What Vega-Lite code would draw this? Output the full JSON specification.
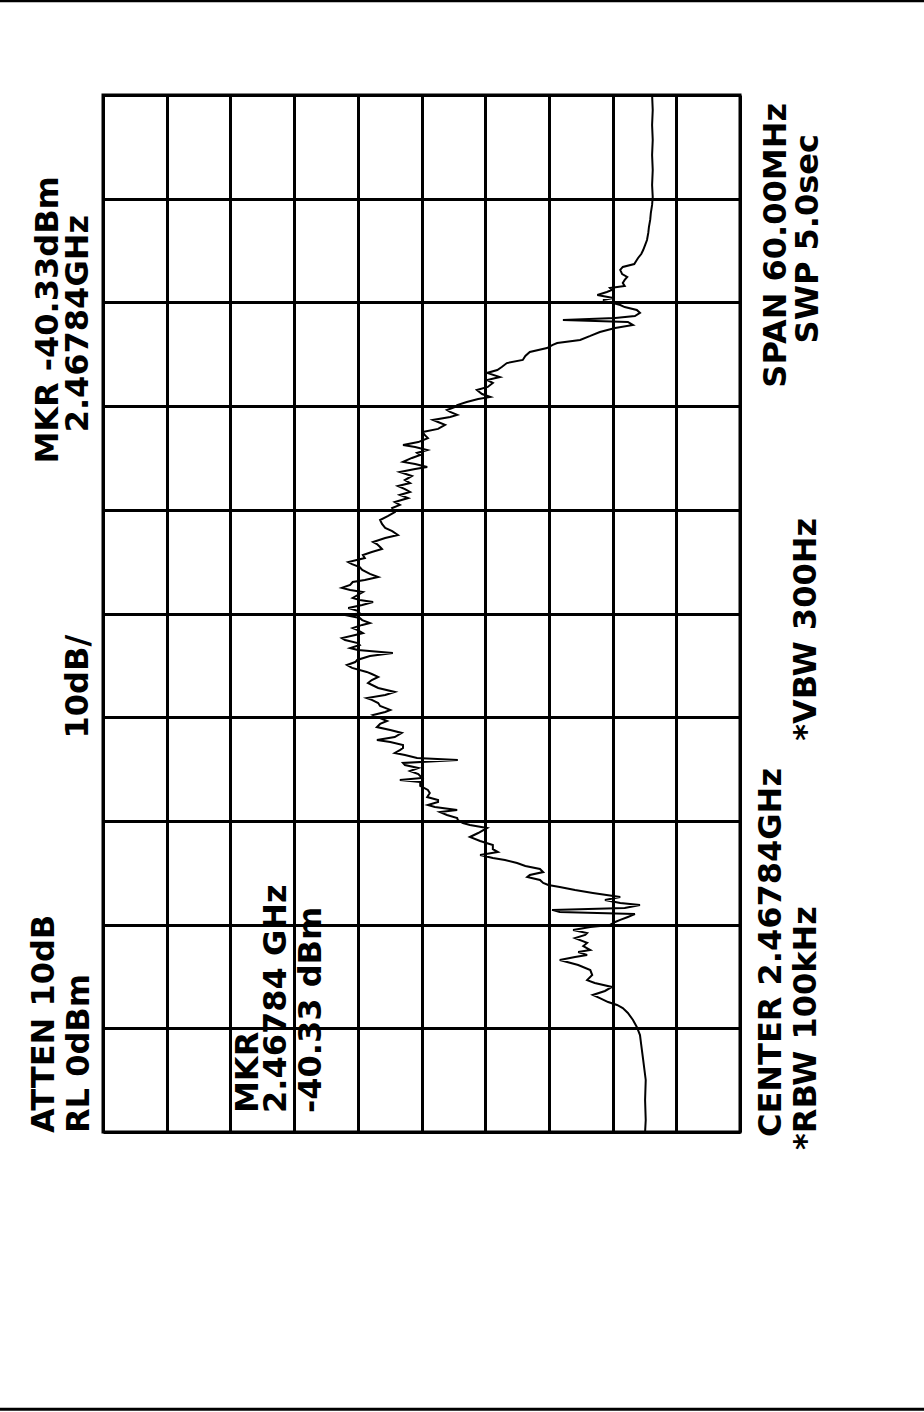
{
  "$schema": "https://vega.github.io/schema/vega-lite/v6.json",
  "autosize": "none",
  "width": 637,
  "height": 1037,
  "padding": {"left": 103, "top": 95, "right": 184, "bottom": 280},
  "background": "white",
  "config": {"view": {"stroke": "black", "strokeWidth": 3}},
  "datasets": {
    "trace": [
      {"freq_mhz":2437.84,"level_dbm":-85.1},{"freq_mhz":2438.53,"level_dbm":-85.2},{"freq_mhz":2439.69,"level_dbm":-85.1},{"freq_mhz":2440.85,"level_dbm":-85.2},
      {"freq_mhz":2442.01,"level_dbm":-84.8},{"freq_mhz":2442.87,"level_dbm":-84.5},{"freq_mhz":2443.45,"level_dbm":-84.3},{"freq_mhz":2443.92,"level_dbm":-83.8},
      {"freq_mhz":2444.32,"level_dbm":-83.2},{"freq_mhz":2444.73,"level_dbm":-82.4},{"freq_mhz":2445.01,"level_dbm":-81.6},{"freq_mhz":2445.19,"level_dbm":-80.7},
      {"freq_mhz":2445.36,"level_dbm":-79.3},{"freq_mhz":2445.59,"level_dbm":-78.0},{"freq_mhz":2445.77,"level_dbm":-76.9},{"freq_mhz":2446.00,"level_dbm":-78.8},
      {"freq_mhz":2446.23,"level_dbm":-79.9},{"freq_mhz":2446.46,"level_dbm":-77.2},{"freq_mhz":2446.63,"level_dbm":-76.0},{"freq_mhz":2446.92,"level_dbm":-76.8},
      {"freq_mhz":2447.21,"level_dbm":-76.5},{"freq_mhz":2447.50,"level_dbm":-74.6},{"freq_mhz":2447.79,"level_dbm":-71.7},{"freq_mhz":2447.97,"level_dbm":-74.1},
      {"freq_mhz":2448.08,"level_dbm":-76.0},{"freq_mhz":2448.25,"level_dbm":-74.6},{"freq_mhz":2448.37,"level_dbm":-76.5},{"freq_mhz":2448.60,"level_dbm":-75.4},
      {"freq_mhz":2448.78,"level_dbm":-76.0},{"freq_mhz":2449.06,"level_dbm":-74.1},{"freq_mhz":2449.24,"level_dbm":-75.7},{"freq_mhz":2449.35,"level_dbm":-76.0},
      {"freq_mhz":2449.53,"level_dbm":-73.8},{"freq_mhz":2449.70,"level_dbm":-76.5},{"freq_mhz":2449.82,"level_dbm":-79.6},{"freq_mhz":2449.99,"level_dbm":-80.4},
      {"freq_mhz":2450.11,"level_dbm":-81.2},{"freq_mhz":2450.28,"level_dbm":-82.4},{"freq_mhz":2450.40,"level_dbm":-83.2},{"freq_mhz":2450.45,"level_dbm":-83.5},
      {"freq_mhz":2450.57,"level_dbm":-71.7},{"freq_mhz":2450.69,"level_dbm":-70.5},{"freq_mhz":2450.80,"level_dbm":-81.9},{"freq_mhz":2450.97,"level_dbm":-84.3},
      {"freq_mhz":2451.09,"level_dbm":-81.2},{"freq_mhz":2451.26,"level_dbm":-78.8},{"freq_mhz":2451.44,"level_dbm":-81.2},{"freq_mhz":2451.67,"level_dbm":-76.9},
      {"freq_mhz":2451.84,"level_dbm":-74.1},{"freq_mhz":2452.02,"level_dbm":-71.7},{"freq_mhz":2452.13,"level_dbm":-69.9},{"freq_mhz":2452.25,"level_dbm":-69.1},
      {"freq_mhz":2452.42,"level_dbm":-68.6},{"freq_mhz":2452.59,"level_dbm":-66.6},{"freq_mhz":2452.71,"level_dbm":-67.0},{"freq_mhz":2452.88,"level_dbm":-69.1},
      {"freq_mhz":2453.06,"level_dbm":-68.6},{"freq_mhz":2453.23,"level_dbm":-66.3},{"freq_mhz":2453.40,"level_dbm":-65.0},{"freq_mhz":2453.58,"level_dbm":-63.1},
      {"freq_mhz":2453.69,"level_dbm":-61.2},{"freq_mhz":2453.87,"level_dbm":-59.2},{"freq_mhz":2454.04,"level_dbm":-62.0},{"freq_mhz":2454.21,"level_dbm":-61.2},
      {"freq_mhz":2454.45,"level_dbm":-61.2},{"freq_mhz":2454.68,"level_dbm":-59.2},{"freq_mhz":2454.91,"level_dbm":-57.6},{"freq_mhz":2455.14,"level_dbm":-58.9},
      {"freq_mhz":2455.43,"level_dbm":-60.3},{"freq_mhz":2455.60,"level_dbm":-57.6},{"freq_mhz":2455.72,"level_dbm":-56.5},{"freq_mhz":2455.89,"level_dbm":-55.7},
      {"freq_mhz":2456.01,"level_dbm":-55.6},{"freq_mhz":2456.18,"level_dbm":-54.0},{"freq_mhz":2456.35,"level_dbm":-52.9},{"freq_mhz":2456.47,"level_dbm":-55.6},
      {"freq_mhz":2456.64,"level_dbm":-52.1},{"freq_mhz":2456.76,"level_dbm":-51.0},{"freq_mhz":2456.93,"level_dbm":-52.6},{"freq_mhz":2457.05,"level_dbm":-52.6},
      {"freq_mhz":2457.22,"level_dbm":-50.9},{"freq_mhz":2457.45,"level_dbm":-51.3},{"freq_mhz":2457.63,"level_dbm":-51.0},{"freq_mhz":2457.86,"level_dbm":-49.8},
      {"freq_mhz":2458.09,"level_dbm":-49.8},{"freq_mhz":2458.21,"level_dbm":-46.6},{"freq_mhz":2458.32,"level_dbm":-50.1},{"freq_mhz":2458.55,"level_dbm":-49.5},
      {"freq_mhz":2458.73,"level_dbm":-48.2},{"freq_mhz":2458.90,"level_dbm":-49.5},{"freq_mhz":2459.07,"level_dbm":-47.4},{"freq_mhz":2459.19,"level_dbm":-47.1},
      {"freq_mhz":2459.36,"level_dbm":-55.7},{"freq_mhz":2459.48,"level_dbm":-49.3},{"freq_mhz":2459.65,"level_dbm":-47.4},{"freq_mhz":2459.77,"level_dbm":-45.8},
      {"freq_mhz":2459.94,"level_dbm":-46.6},{"freq_mhz":2460.06,"level_dbm":-47.1},{"freq_mhz":2460.23,"level_dbm":-47.1},{"freq_mhz":2460.41,"level_dbm":-45.1},
      {"freq_mhz":2460.52,"level_dbm":-43.0},{"freq_mhz":2460.69,"level_dbm":-45.8},{"freq_mhz":2460.93,"level_dbm":-46.9},{"freq_mhz":2461.10,"level_dbm":-45.1},
      {"freq_mhz":2461.27,"level_dbm":-43.0},{"freq_mhz":2461.45,"level_dbm":-43.5},{"freq_mhz":2461.62,"level_dbm":-44.6},{"freq_mhz":2461.79,"level_dbm":-43.5},
      {"freq_mhz":2461.97,"level_dbm":-42.4},{"freq_mhz":2462.14,"level_dbm":-44.3},{"freq_mhz":2462.26,"level_dbm":-45.1},{"freq_mhz":2462.49,"level_dbm":-43.5},
      {"freq_mhz":2462.66,"level_dbm":-43.2},{"freq_mhz":2462.84,"level_dbm":-42.2},{"freq_mhz":2462.95,"level_dbm":-41.4},{"freq_mhz":2463.13,"level_dbm":-44.3},
      {"freq_mhz":2463.30,"level_dbm":-45.8},{"freq_mhz":2463.53,"level_dbm":-43.2},{"freq_mhz":2463.82,"level_dbm":-41.6},{"freq_mhz":2463.99,"level_dbm":-42.2},
      {"freq_mhz":2464.17,"level_dbm":-43.2},{"freq_mhz":2464.34,"level_dbm":-42.2},{"freq_mhz":2464.46,"level_dbm":-41.4},{"freq_mhz":2464.69,"level_dbm":-39.1},
      {"freq_mhz":2464.86,"level_dbm":-38.3},{"freq_mhz":2465.03,"level_dbm":-39.6},{"freq_mhz":2465.15,"level_dbm":-39.9},{"freq_mhz":2465.38,"level_dbm":-41.9},
      {"freq_mhz":2465.55,"level_dbm":-45.5},{"freq_mhz":2465.73,"level_dbm":-40.0},{"freq_mhz":2465.84,"level_dbm":-38.8},{"freq_mhz":2466.02,"level_dbm":-40.3},
      {"freq_mhz":2466.13,"level_dbm":-40.0},{"freq_mhz":2466.31,"level_dbm":-38.0},{"freq_mhz":2466.42,"level_dbm":-37.5},{"freq_mhz":2466.60,"level_dbm":-39.6},
      {"freq_mhz":2466.71,"level_dbm":-40.8},{"freq_mhz":2466.89,"level_dbm":-39.9},{"freq_mhz":2467.00,"level_dbm":-39.2},{"freq_mhz":2467.18,"level_dbm":-40.7},
      {"freq_mhz":2467.29,"level_dbm":-41.9},{"freq_mhz":2467.46,"level_dbm":-40.7},{"freq_mhz":2467.58,"level_dbm":-40.3},{"freq_mhz":2467.75,"level_dbm":-38.0},
      {"freq_mhz":2467.84,"level_dbm":-40.33},{"freq_mhz":2467.99,"level_dbm":-40.0},{"freq_mhz":2468.16,"level_dbm":-38.5},{"freq_mhz":2468.33,"level_dbm":-40.7},
      {"freq_mhz":2468.51,"level_dbm":-42.4},{"freq_mhz":2468.62,"level_dbm":-40.3},{"freq_mhz":2468.74,"level_dbm":-39.2},{"freq_mhz":2468.91,"level_dbm":-40.0},
      {"freq_mhz":2469.08,"level_dbm":-40.8},{"freq_mhz":2469.20,"level_dbm":-38.8},{"freq_mhz":2469.32,"level_dbm":-37.5},{"freq_mhz":2469.49,"level_dbm":-38.8},
      {"freq_mhz":2469.66,"level_dbm":-39.2},{"freq_mhz":2469.78,"level_dbm":-41.1},{"freq_mhz":2469.95,"level_dbm":-43.2},{"freq_mhz":2470.13,"level_dbm":-41.9},
      {"freq_mhz":2470.36,"level_dbm":-40.7},{"freq_mhz":2470.53,"level_dbm":-40.3},{"freq_mhz":2470.70,"level_dbm":-39.1},{"freq_mhz":2470.82,"level_dbm":-38.5},
      {"freq_mhz":2471.05,"level_dbm":-41.1},{"freq_mhz":2471.22,"level_dbm":-40.8},{"freq_mhz":2471.40,"level_dbm":-42.2},{"freq_mhz":2471.57,"level_dbm":-43.8},
      {"freq_mhz":2471.69,"level_dbm":-43.5},{"freq_mhz":2471.86,"level_dbm":-43.0},{"freq_mhz":2471.98,"level_dbm":-42.4},{"freq_mhz":2472.21,"level_dbm":-44.3},
      {"freq_mhz":2472.38,"level_dbm":-46.3},{"freq_mhz":2472.61,"level_dbm":-45.4},{"freq_mhz":2472.79,"level_dbm":-44.3},{"freq_mhz":2473.02,"level_dbm":-43.8},
      {"freq_mhz":2473.25,"level_dbm":-43.5},{"freq_mhz":2473.48,"level_dbm":-44.7},{"freq_mhz":2473.71,"level_dbm":-45.8},{"freq_mhz":2473.94,"level_dbm":-45.4},
      {"freq_mhz":2474.12,"level_dbm":-46.6},{"freq_mhz":2474.29,"level_dbm":-45.8},{"freq_mhz":2474.52,"level_dbm":-47.9},{"freq_mhz":2474.70,"level_dbm":-46.6},
      {"freq_mhz":2474.87,"level_dbm":-48.2},{"freq_mhz":2475.04,"level_dbm":-47.4},{"freq_mhz":2475.22,"level_dbm":-46.3},{"freq_mhz":2475.39,"level_dbm":-48.2},
      {"freq_mhz":2475.56,"level_dbm":-47.4},{"freq_mhz":2475.80,"level_dbm":-48.5},{"freq_mhz":2476.03,"level_dbm":-46.6},{"freq_mhz":2476.20,"level_dbm":-49.0},
      {"freq_mhz":2476.32,"level_dbm":-50.9},{"freq_mhz":2476.49,"level_dbm":-49.0},{"freq_mhz":2476.61,"level_dbm":-47.1},{"freq_mhz":2476.84,"level_dbm":-48.5},
      {"freq_mhz":2477.01,"level_dbm":-49.8},{"freq_mhz":2477.13,"level_dbm":-49.3},{"freq_mhz":2477.30,"level_dbm":-50.9},{"freq_mhz":2477.47,"level_dbm":-49.0},
      {"freq_mhz":2477.59,"level_dbm":-47.1},{"freq_mhz":2477.76,"level_dbm":-49.5},{"freq_mhz":2477.99,"level_dbm":-51.0},{"freq_mhz":2478.17,"level_dbm":-50.5},
      {"freq_mhz":2478.34,"level_dbm":-50.2},{"freq_mhz":2478.52,"level_dbm":-52.6},{"freq_mhz":2478.75,"level_dbm":-53.7},{"freq_mhz":2478.92,"level_dbm":-52.6},
      {"freq_mhz":2479.04,"level_dbm":-51.8},{"freq_mhz":2479.21,"level_dbm":-54.5},{"freq_mhz":2479.33,"level_dbm":-55.6},{"freq_mhz":2479.50,"level_dbm":-54.5},
      {"freq_mhz":2479.61,"level_dbm":-54.0},{"freq_mhz":2479.79,"level_dbm":-55.3},{"freq_mhz":2479.90,"level_dbm":-55.6},{"freq_mhz":2480.08,"level_dbm":-57.1},
      {"freq_mhz":2480.25,"level_dbm":-58.9},{"freq_mhz":2480.37,"level_dbm":-60.8},{"freq_mhz":2480.54,"level_dbm":-59.5},{"freq_mhz":2480.77,"level_dbm":-58.7},
      {"freq_mhz":2480.95,"level_dbm":-60.4},{"freq_mhz":2481.18,"level_dbm":-61.2},{"freq_mhz":2481.35,"level_dbm":-60.3},{"freq_mhz":2481.52,"level_dbm":-62.3},
      {"freq_mhz":2481.76,"level_dbm":-60.3},{"freq_mhz":2481.93,"level_dbm":-61.9},{"freq_mhz":2482.10,"level_dbm":-62.6},{"freq_mhz":2482.33,"level_dbm":-63.4},
      {"freq_mhz":2482.51,"level_dbm":-65.9},{"freq_mhz":2482.74,"level_dbm":-66.3},{"freq_mhz":2482.97,"level_dbm":-67.0},{"freq_mhz":2483.20,"level_dbm":-69.7},
      {"freq_mhz":2483.38,"level_dbm":-70.6},{"freq_mhz":2483.49,"level_dbm":-71.3},{"freq_mhz":2483.67,"level_dbm":-74.9},{"freq_mhz":2483.90,"level_dbm":-76.5},
      {"freq_mhz":2484.13,"level_dbm":-78.0},{"freq_mhz":2484.36,"level_dbm":-80.4},{"freq_mhz":2484.53,"level_dbm":-83.2},{"freq_mhz":2484.71,"level_dbm":-82.4},
      {"freq_mhz":2484.82,"level_dbm":-72.2},{"freq_mhz":2484.94,"level_dbm":-80.4},{"freq_mhz":2485.05,"level_dbm":-83.5},{"freq_mhz":2485.23,"level_dbm":-84.3},
      {"freq_mhz":2485.40,"level_dbm":-83.8},{"freq_mhz":2485.57,"level_dbm":-81.9},{"freq_mhz":2485.69,"level_dbm":-81.2},{"freq_mhz":2485.81,"level_dbm":-80.1},
      {"freq_mhz":2485.98,"level_dbm":-78.5},{"freq_mhz":2486.10,"level_dbm":-80.1},{"freq_mhz":2486.27,"level_dbm":-77.6},{"freq_mhz":2486.44,"level_dbm":-79.1},
      {"freq_mhz":2486.56,"level_dbm":-79.9},{"freq_mhz":2486.67,"level_dbm":-79.6},{"freq_mhz":2486.79,"level_dbm":-81.9},{"freq_mhz":2486.96,"level_dbm":-81.6},
      {"freq_mhz":2487.14,"level_dbm":-81.9},{"freq_mhz":2487.31,"level_dbm":-82.3},{"freq_mhz":2487.48,"level_dbm":-81.5},{"freq_mhz":2487.72,"level_dbm":-81.2},
      {"freq_mhz":2487.89,"level_dbm":-81.6},{"freq_mhz":2488.06,"level_dbm":-83.4},{"freq_mhz":2488.24,"level_dbm":-83.7},{"freq_mhz":2488.41,"level_dbm":-84.0},
      {"freq_mhz":2488.64,"level_dbm":-84.5},{"freq_mhz":2488.87,"level_dbm":-84.8},{"freq_mhz":2489.16,"level_dbm":-85.1},{"freq_mhz":2489.45,"level_dbm":-85.4},
      {"freq_mhz":2489.86,"level_dbm":-85.6},{"freq_mhz":2490.20,"level_dbm":-85.7},{"freq_mhz":2490.61,"level_dbm":-85.9},{"freq_mhz":2491.01,"level_dbm":-86.0},
      {"freq_mhz":2491.48,"level_dbm":-86.2},{"freq_mhz":2491.94,"level_dbm":-86.3},{"freq_mhz":2492.63,"level_dbm":-86.2},{"freq_mhz":2493.50,"level_dbm":-86.3},
      {"freq_mhz":2494.37,"level_dbm":-86.2},{"freq_mhz":2495.24,"level_dbm":-86.3},{"freq_mhz":2496.10,"level_dbm":-86.2},{"freq_mhz":2496.97,"level_dbm":-86.3},
      {"freq_mhz":2497.84,"level_dbm":-86.2}
    ],
    "labels_from_bottom": [
      {"text":"ATTEN 10dB","level_dbm":9.3,"freq_mhz":2437.78},
      {"text":"RL 0dBm","level_dbm":3.8,"freq_mhz":2437.78},
      {"text":"MKR","level_dbm":-22.8,"freq_mhz":2438.94},
      {"text":"2.46784 GHz","level_dbm":-27.2,"freq_mhz":2438.94},
      {"text":"-40.33 dBm","level_dbm":-32.7,"freq_mhz":2438.94},
      {"text":"CENTER 2.46784GHz","level_dbm":-104.9,"freq_mhz":2437.55},
      {"text":"*RBW 100kHz","level_dbm":-110.4,"freq_mhz":2436.8}
    ],
    "labels_from_top": [
      {"text":"MKR -40.33dBm","level_dbm":8.6,"freq_mhz":2493.15},
      {"text":"2.46784GHz","level_dbm":3.9,"freq_mhz":2490.9},
      {"text":"10dB/","level_dbm":3.9,"freq_mhz":2466.6},
      {"text":"*VBW 300Hz","level_dbm":-110.4,"freq_mhz":2473.37},
      {"text":"SPAN 60.00MHz","level_dbm":-105.7,"freq_mhz":2497.38},
      {"text":"SWP 5.0sec","level_dbm":-110.7,"freq_mhz":2495.58}
    ],
    "pagerules": [
      {"freq_mhz":2503.3,"level_dbm":16.2,"level_end":-129.6},
      {"freq_mhz":2421.8,"level_dbm":16.2,"level_end":-129.6}
    ]
  },
  "layer": [
    {
      "data": {"name": "trace"},
      "mark": {"type": "line", "color": "black", "strokeWidth": 2},
      "encoding": {
        "x": {"field": "level_dbm", "type": "quantitative",
              "scale": {"domain": [-100, 0], "reverse": true, "nice": false, "zero": false},
              "axis": {"values": [-100,-90,-80,-70,-60,-50,-40,-30,-20,-10,0], "grid": true, "gridColor": "black", "gridWidth": 3, "gridOpacity": 1,
                       "labels": false, "ticks": false, "domain": false, "title": null}},
        "y": {"field": "freq_mhz", "type": "quantitative",
              "scale": {"domain": [2437.84, 2497.84], "nice": false, "zero": false},
              "axis": {"values": [2437.84,2443.84,2449.84,2455.84,2461.84,2467.84,2473.84,2479.84,2485.84,2491.84,2497.84], "grid": true, "gridColor": "black", "gridWidth": 3, "gridOpacity": 1,
                       "labels": false, "ticks": false, "domain": false, "title": null}},
        "order": {"field": "freq_mhz", "type": "quantitative"}
      }
    },
    {
      "data": {"name": "labels_from_bottom"},
      "mark": {"type": "text", "angle": 270, "align": "left", "baseline": "middle", "font": "DejaVu Sans", "fontSize": 32, "fontWeight": "bold", "color": "black"},
      "encoding": {
        "x": {"field": "level_dbm", "type": "quantitative"},
        "y": {"field": "freq_mhz", "type": "quantitative"},
        "text": {"field": "text", "type": "nominal"}
      }
    },
    {
      "data": {"name": "labels_from_top"},
      "mark": {"type": "text", "angle": 270, "align": "right", "baseline": "middle", "font": "DejaVu Sans", "fontSize": 32, "fontWeight": "bold", "color": "black"},
      "encoding": {
        "x": {"field": "level_dbm", "type": "quantitative"},
        "y": {"field": "freq_mhz", "type": "quantitative"},
        "text": {"field": "text", "type": "nominal"}
      }
    },
    {
      "data": {"name": "pagerules"},
      "mark": {"type": "rule", "color": "black", "strokeWidth": 3},
      "encoding": {
        "x": {"field": "level_dbm", "type": "quantitative"},
        "x2": {"field": "level_end"},
        "y": {"field": "freq_mhz", "type": "quantitative"}
      }
    }
  ]
}
